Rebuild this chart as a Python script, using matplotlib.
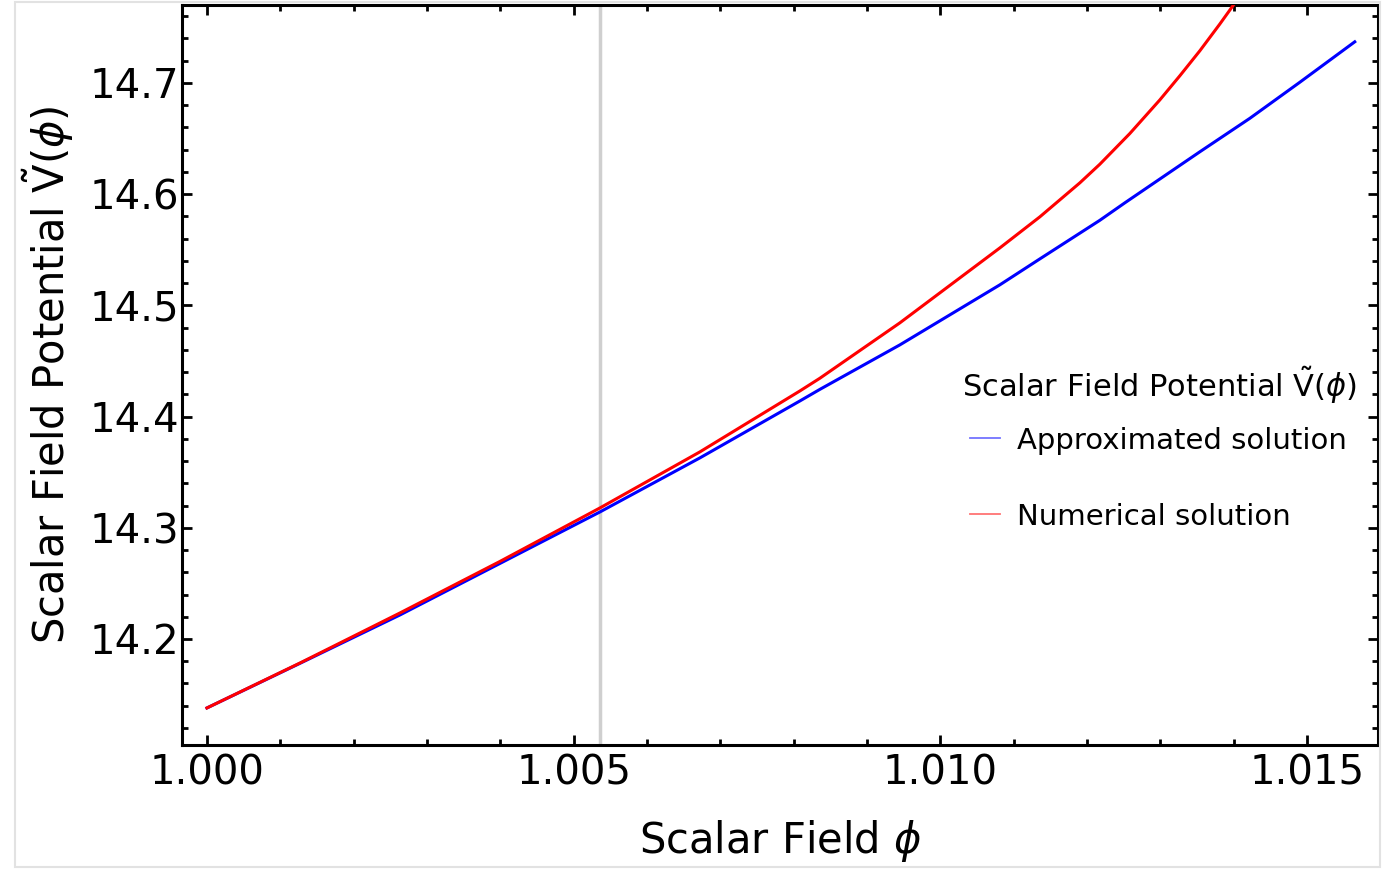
import numpy as np
import matplotlib
matplotlib.use("Agg")
from matplotlib import pyplot as plt
from matplotlib.patches import Rectangle
from matplotlib.ticker import MultipleLocator

# values
phiApprox = [1.000000, 1.001268, 1.002632, 1.003995, 1.005359, 1.006722, 1.008086,
             1.008358, 1.009449, 1.010813, 1.011358, 1.012176, 1.012517, 1.013540,
             1.014222, 1.014903, 1.015653]
vApprox = [14.1380, 14.1781, 14.2216, 14.2679, 14.3142, 14.3628, 14.4140,
           14.4244, 14.4644, 14.5184, 14.5417, 14.5764, 14.5921, 14.6380,
           14.6681, 14.7005, 14.7369]

phiNum = [1.000000, 1.001268, 1.002632, 1.003995, 1.005359, 1.006722, 1.008086,
          1.008358, 1.009449, 1.010813, 1.011358, 1.011904, 1.012176, 1.012585,
          1.012994, 1.013267, 1.013540, 1.013812, 1.014085]
vNum = [14.1380, 14.1784, 14.2234, 14.2697, 14.3178, 14.3682, 14.4230,
        14.4344, 14.4842, 14.5516, 14.5795, 14.6101, 14.6268, 14.6544,
        14.6846, 14.7063, 14.7288, 14.7528, 14.7779]

markerPhi = 1.00536

xTicks = [1.000, 1.005, 1.010, 1.015]
xTickLabels = ["1.000", "1.005", "1.010", "1.015"]
yTicks = [14.2, 14.3, 14.4, 14.5, 14.6, 14.7]

plt.rcParams['font.family'] = ['DejaVu Sans']
plt.rcParams['mathtext.fontset'] = 'dejavusans'

fig = plt.figure(figsize=(13.83, 8.69), dpi=100)
ax = fig.add_axes([182/1383, 124/869, 1196/1383, 740/869])

# light screenshot border
fig.patches.append(Rectangle((15/1383, 2/869), 1365/1383, 865/869, transform=fig.transFigure,
                             fill=False, edgecolor='#e2e2e2', linewidth=1.5))

ax.axvline(markerPhi, color='#cfcfcf', linewidth=2.5, zorder=1)
ax.plot(phiApprox, vApprox, color='#0000ff', linewidth=2.2, label='Approximated solution', zorder=2)
ax.plot(phiNum, vNum, color='#ff0000', linewidth=2.2, label='Numerical solution', zorder=3)

ax.set_xlim(0.99966, 1.01597)
ax.set_ylim(14.1047, 14.770)

ax.set_xticks(xTicks)
ax.set_xticklabels(xTickLabels)
ax.set_yticks(yTicks)
ax.xaxis.set_minor_locator(MultipleLocator(0.001))
ax.yaxis.set_minor_locator(MultipleLocator(0.02))
ax.tick_params(which='both', direction='in', top=True, right=True, width=2)
ax.tick_params(which='major', length=7, labelsize=29, pad=6)
ax.tick_params(axis='y', which='major', pad=2)
ax.tick_params(which='minor', length=4)
for s in ax.spines.values():
    s.set_linewidth(2.2)

ax.set_xlabel(r'Scalar Field $\phi$', fontsize=30, labelpad=18)
ax.set_ylabel(r'Scalar Field Potential $\tilde{\mathrm{V}}(\phi)$', fontsize=30, labelpad=10)

# legend title drawn as its own text so its gap to the entries matches
ax.text(0.652, 0.486, r'Scalar Field Potential $\tilde{\mathrm{V}}(\phi)$', transform=ax.transAxes,
        fontsize=22, ha='left', va='center')
leg = ax.legend(loc='center left', bbox_to_anchor=(0.647, 0.360), frameon=False,
                fontsize=21, handlelength=1.0, handletextpad=0.6, labelspacing=1.65,
                borderpad=0)
for ln in leg.get_lines():
    ln.set_alpha(0.55)
    ln.set_linewidth(1.3)

fig.savefig('out.png', dpi=100)
